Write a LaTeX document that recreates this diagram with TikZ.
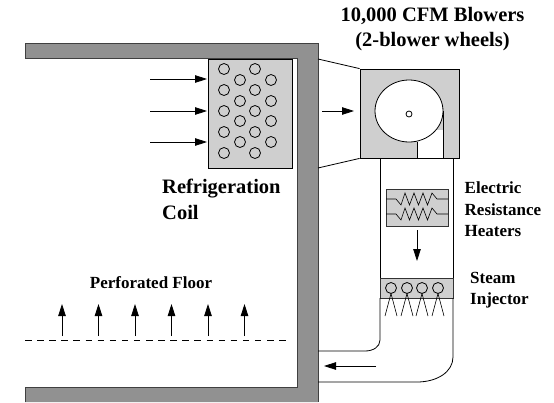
\documentclass[tikz,border=0pt]{standalone}
\usepackage{fontspec}
\setmainfont{Liberation Serif}
\usetikzlibrary{arrows.meta}
\definecolor{wallc}{HTML}{919191}
\definecolor{boxc}{HTML}{CFCFCF}
\tikzset{
 x=1pt,y=-1pt,
 line/.style={draw=black,line width=0.8pt},
 flow/.style={draw=black,line width=0.8pt,-{Triangle[length=12pt,width=7.5pt]}},
 tube/.style={line,fill=none,radius=5.5},
 lab/.style={font=\bfseries\fontsize{17}{20}\selectfont,inner sep=0pt,anchor=base west},
 big/.style={font=\bfseries\fontsize{20.5}{24}\selectfont,inner sep=0pt},
}
\begin{document}
\begin{tikzpicture}
\useasboundingbox (0,0) rectangle (554,402);
% wall
\fill[wallc] (25,43) -- (318,43) -- (318,402) -- (25,402) -- (25,387) -- (297,387) -- (297,58) -- (25,58) -- cycle;
\draw[line,draw=black!75] (25,402) -- (25,387) -- (297,387) -- (297,58) -- (25,58) -- (25,43) -- (318,43) -- (318,402);
% coil
\node[line,fill=boxc,minimum width=84pt,minimum height=109pt,inner sep=0pt] (coil) at (250,113.5) {};
\foreach \cx/\cy in {224/69,224/90,224/111,224/132,224/153,240/80,240/101,240/121,240/142,255/69,255/90,255/111,255/132,255/153,271/80,271/101,271/121,271/142}
  \draw[tube] (\cx,\cy) circle;
\foreach \ay in {79,111,142} {
  \coordinate (in\ay) at (150,\ay);
  \draw[flow] (in\ay) -- (207,\ay);
}
% blower
\node[line,fill=boxc,minimum width=99pt,minimum height=89pt,inner sep=0pt] (blower) at (409.5,113.5) {};
\fill[white] (417,130) rectangle (443,158);
\draw[line,fill=white] (409,111) ellipse [x radius=34,y radius=31];
\draw[line] (417,142) -- (417,158) (443,111) -- (443,158) (417,158) -- (443,158);
\draw[line] (409,114) circle [radius=3];
\coordinate (ductA) at (318,59); \coordinate (ductB) at (318,168);
\draw[line] (ductA) -- (blower.north west);
\draw[line] (ductB) -- (blower.south west);
\coordinate (blowerin) at (322,111);
\draw[flow] (blowerin) -- (354,111);
% heater
\node[line,draw=black!80,fill=boxc,minimum width=62pt,minimum height=37pt,inner sep=0pt] (heater) at (417,207.5) {};
\foreach \ry in {199,214}
  \draw[line,line width=0.6pt] (386,\ry) -- (396,\ry) -- (401,\ry+6) -- (405,\ry-6) -- (409.5,\ry+6) -- (414,\ry-6) -- (418.5,\ry+6) -- (423,\ry-6) -- (427.5,\ry+6) -- (432,\ry-6) -- (437,\ry) -- (448,\ry);
\coordinate (hout) at (417,230);
\coordinate (sin) at (417,261);
\draw[flow] (hout) -- (sin);
% steam injector
\draw[line] (380,158) -- (380,278) (453,158) -- (453,278);
\node[line,draw=black!80,fill=boxc,minimum width=73pt,minimum height=20pt,inner sep=0pt] (steam) at (416.5,288) {};
\foreach \sx in {391,407,422,438} {
  \draw[tube] (\sx,288) circle;
  \draw[line,line width=0.6pt] (\sx-6,316) -- (\sx,293.5) -- (\sx+6,316);
}
% duct bottom
\draw[line] (380,298) -- (380,340) .. controls (380,347) and (373,351) .. (365,351) -- (318,351);
\draw[line] (453,298) -- (453,357) .. controls (453,372) and (437,382) .. (417,382) -- (318,382);
\coordinate (rs) at (376,366);
\draw[flow] (rs) -- (324,366);
% floor
\draw[line,dash pattern=on 6.5pt off 5.6pt] (25,340) -- (290,340);
\foreach \fx [count=\fidx] in {62,98.5,135,171.5,208,244.5} {
  \coordinate (fl\fidx) at (\fx,336);
  \draw[flow] (fl\fidx) -- (\fx,304);
}
% labels
\node[big,anchor=base] (t1) at (432.5,21.7) {10,000 CFM Blowers};
\node[big,anchor=base] (t2) at (432.5,46.7) {(2-blower wheels)};
\node[big,anchor=base west] (t3) at (162,193.3) {Refrigeration};
\node[big,anchor=base west] (t4) at (162,219) {Coil};
\node[lab,anchor=base] (t5) at (151,288) {Perforated Floor};
\node[lab] (t6) at (464.5,193) {Electric};
\node[lab] (t7) at (464.5,215) {Resistance};
\node[lab] (t8) at (464.5,236) {Heaters};
\node[lab] (t9) at (470,283) {Steam};
\node[lab] (t10) at (470,304) {Injector};
\end{tikzpicture}
\end{document}
